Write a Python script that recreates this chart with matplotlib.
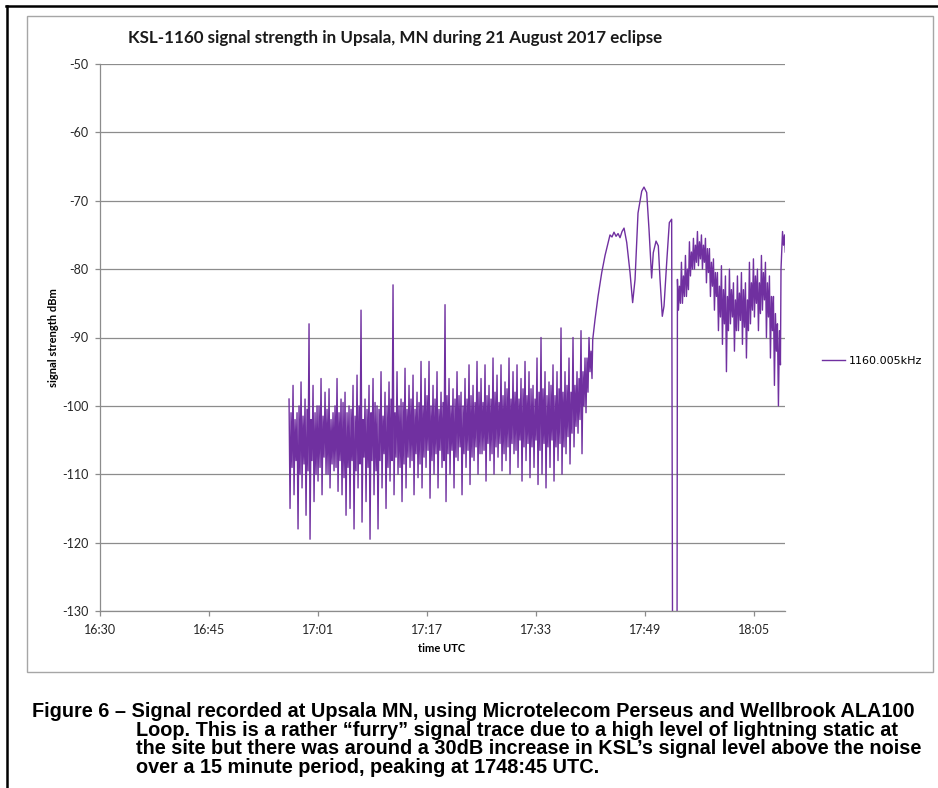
import numpy as np
import matplotlib

matplotlib.use("Agg")
import matplotlib.pyplot as plt
from matplotlib.lines import Line2D
from matplotlib.patches import Rectangle

plt.rcParams["axes.unicode_minus"] = False

# time axis is minutes after 16:30 UTC; Excel date axis with a 0.011 day major unit
TICK_MINUTES = [0, 15.84, 31.68, 47.52, 63.36, 79.2, 95.04]
TICK_LABELS = ["16:30", "16:45", "17:01", "17:17", "17:33", "17:49", "18:05"]
X_MAX = 99.54
Y_TICKS = [-50, -60, -70, -80, -90, -100, -110, -120, -130]

# recorder samples: outer high / low excursions ...
SAMPLE_STEP = 0.1453
NOISE_A_START = 27.47
NOISE_A = [
    -99, -115, -97, -113, -101, -118, -96.5, -112, -99, -116,
    -88, -119.5, -97, -114, -100, -111, -96, -113, -98, -110,
    -97.5, -112, -101, -109.5, -96, -112.5, -99, -113, -98, -116,
    -100, -115, -97, -118, -95.5, -112, -86, -117, -99, -114,
    -97, -119.5, -96, -113, -100, -118, -95, -112, -98, -115,
    -96.5, -111, -82.3, -113, -95, -110, -99, -114, -94.5, -112,
    -97, -109, -95.5, -113, -98, -110.5, -93.5, -112, -96, -109,
    -93.5, -113.5, -97, -110, -95, -112, -98, -109, -85.2, -114,
    -96, -110, -97.5, -112, -95, -108, -98, -113, -96, -109,
    -94, -111.5, -97, -108, -93.5, -110, -96, -107, -94, -111,
    -97, -108, -93, -110, -95.5, -107.5, -94, -109.5, -96.5, -108,
    -93, -110, -95, -107, -94, -109, -96, -111, -93.5, -108,
    -95, -110.5, -97, -109, -93, -111.5, -90, -110, -95, -112,
    -96.5, -109, -94, -111, -95, -108, -88.6, -110, -95, -107,
    -93, -108.5, -90, -106, -95, -104, -89, -107, -93, -101,
    -90, -95,
]
# ... and the dense core of the trace in between them
CORE_A = [
    -101, -109, -102, -108, -100, -110, -101.5, -108.5, -100.5, -109.5,
    -102, -108, -101, -110, -100, -109, -101.5, -107.5, -100.5, -110,
    -102, -108.5, -100, -109, -101, -108, -99.5, -110.5, -101, -109,
    -100.5, -108, -101.5, -109.5, -100, -108.5, -102, -107.5, -100.5, -109,
    -101, -108, -99.5, -109.5, -100.5, -108, -101.5, -107, -100, -109,
    -99, -108, -101, -107.5, -100, -109, -99.5, -108.5, -100.5, -107.5,
    -99, -108, -100.5, -107, -99.5, -108.5, -100, -107.5, -98.5, -106.5,
    -100, -108, -99, -107, -100.5, -106.5, -99.5, -108, -98.5, -107,
    -100, -106.5, -99, -107.5, -98.5, -106, -100, -107, -99, -106.5,
    -98.5, -107.5, -99.5, -106, -98, -107, -99.5, -106.5, -98.5, -105.5,
    -99, -107, -98, -106, -99.5, -105.5, -98.5, -107, -97.5, -106,
    -99, -105.5, -98, -106.5, -99, -105, -97.5, -106, -98.5, -105.5,
    -97.5, -106, -99, -105, -98, -106.5, -97.5, -105.5, -98.5, -106,
    -97, -105, -98.5, -106, -97.5, -105.5, -98, -106, -97, -104.5,
    -98, -104, -97, -103, -96, -102, -95, -100, -93, -98,
    -92, -96,
]

# smoother part around totality, then the dropout
RISE_T = [71.6, 71.93, 72.37, 72.91, 73.39, 74.11, 74.40, 74.69, 74.99, 75.28,
          75.57, 75.86, 76.15, 76.54, 77.02, 77.40, 77.75, 78.18, 78.72, 79.05,
          79.44, 79.78, 80.16, 80.40, 80.80, 81.13, 81.38, 81.71, 81.96, 82.35,
          82.73, 83.07, 83.20, 83.85]
RISE_V = [-90.3, -87.4, -84, -80.5, -78, -75, -75.3, -74.6, -75.2, -74.8,
          -75.4, -74.5, -74.0, -76.1, -80.5, -84.9, -81.5, -71.8, -68.6, -68.0,
          -68.8, -74.2, -81.3, -77.6, -75.9, -76.6, -81.5, -86.9, -85.4, -79,
          -73.2, -72.7, -135, -135]

NOISE_B_START = 83.91
NOISE_B = [
    -81.5, -86, -79, -85, -78, -84, -76, -81, -75.5, -80,
    -74.5, -79.5, -75, -80, -75.5, -82, -77, -84, -78.5, -86,
    -80.5, -89, -79.5, -91, -81, -95, -80, -88, -82, -92,
    -81, -89, -80.5, -91, -82, -93, -79, -88, -78.5, -87,
    -80, -89, -78, -86, -79, -90, -81, -93, -84, -97,
    -88, -100,
]
CORE_B = [
    -82.5, -85, -81, -84, -80, -83, -77.5, -80, -76.5, -79,
    -76, -78.5, -76.5, -79, -77, -80.5, -79, -82.5, -80.5, -84,
    -82.5, -87, -83, -88, -84, -89, -83, -87, -84.5, -89,
    -83.5, -87.5, -83, -88.5, -84.5, -89, -82, -86, -81, -85,
    -82, -86.5, -80.5, -84.5, -82, -87, -84, -89, -86.5, -92,
    -89, -94,
]

TAIL_T = [98.96, 99.18, 99.32, 99.47, 99.58]
TAIL_V = [-80, -74.5, -76.5, -75, -77.5]

SERIES_LABEL = "1160.005kHz"
TITLE = "KSL-1160 signal strength in Upsala, MN during 21 August 2017 eclipse"
CAPTION = [
    "Figure 6 \u2013 Signal recorded at Upsala MN, using Microtelecom Perseus and Wellbrook ALA100",
    "Loop. This is a rather \u201cfurry\u201d signal trace due to a high level of lightning static at",
    "the site but there was around a 30dB increase in KSL\u2019s signal level above the noise",
    "over a 15 minute period, peaking at 1748:45 UTC.",
]

W, H = 938, 788
LINE_COLOR = "#7030a0"
GRID_COLOR = "#8c8c8c"


def fx(px):
    return px / W


def fy(py):
    return 1 - py / H


def merge_noise(outer, core):
    # per sample pair: outer high, outer low, core high, core low
    merged = []
    for k in range(0, len(outer), 2):
        merged += [outer[k], outer[k + 1], core[k], core[k + 1]]
    return np.array(merged, dtype=float)


def main():
    noise_a = merge_noise(NOISE_A, CORE_A)
    noise_b = merge_noise(NOISE_B, CORE_B)
    t_a = NOISE_A_START + SAMPLE_STEP * np.arange(len(noise_a))
    t_b = NOISE_B_START + SAMPLE_STEP * np.arange(len(noise_b))
    times = np.concatenate([t_a, RISE_T, t_b, TAIL_T])
    values = np.concatenate([noise_a, RISE_V, noise_b, TAIL_V])

    fig = plt.figure(figsize=(W / 100, H / 100), dpi=100)
    ax = fig.add_axes([fx(100), fy(611), fx(685), (611 - 64) / H])

    ax.plot(times, values, color=LINE_COLOR, linewidth=1.0, label=SERIES_LABEL)

    ax.set_xlim(0, X_MAX)
    ax.set_ylim(-130, -50)
    ax.set_yticks(Y_TICKS)
    ax.set_xticks(TICK_MINUTES)
    ax.set_xticklabels(TICK_LABELS)
    ax.yaxis.grid(True, color=GRID_COLOR, linewidth=0.9)
    ax.set_axisbelow(True)

    for side in ("top", "right"):
        ax.spines[side].set_visible(False)
    for side in ("left", "bottom"):
        ax.spines[side].set_color(GRID_COLOR)
        ax.spines[side].set_linewidth(0.9)
    ax.tick_params(axis="both", direction="out", length=3.5, width=0.9, color=GRID_COLOR,
                   labelsize=9, labelcolor="#262626")
    ax.tick_params(axis="x", pad=6)
    ax.tick_params(axis="y", pad=5)
    for lab in ax.get_xticklabels() + ax.get_yticklabels():
        lab.set_family("Lato")

    fig.text(fx(395), fy(38), TITLE, family="Lato", fontweight="bold", fontsize=12.25,
             ha="center", va="center", color="#1a1a1a")
    fig.text(fx(442), fy(648), "time UTC", family="Lato", fontweight="bold", fontsize=8,
             ha="center", va="center")
    fig.text(fx(53), fy(338), "signal strength dBm", family="Lato", fontweight="bold",
             fontsize=8, rotation=90, ha="center", va="center")

    ax.legend(loc="center left", bbox_to_anchor=(fx(822), fy(361)),
              bbox_transform=fig.transFigure, frameon=False, fontsize=8,
              handlelength=2.1, handletextpad=0.3, borderpad=0, borderaxespad=0)

    # chart border and the page frame around it
    fig.add_artist(Rectangle((fx(27), fy(672)), fx(933 - 27), (672 - 16) / H,
                             transform=fig.transFigure, fill=False,
                             edgecolor="#a6a6a6", linewidth=1))
    fig.add_artist(Line2D([fx(6), 1], [fy(5.5), fy(5.5)], transform=fig.transFigure,
                          color="black", linewidth=1.8))
    fig.add_artist(Line2D([fx(7), fx(7)], [fy(5.5), 0], transform=fig.transFigure,
                          color="black", linewidth=1.8))

    caption_rows = [(32, 717), (136, 736), (136, 754.5), (136, 773)]
    for text, (px, py) in zip(CAPTION, caption_rows):
        fig.text(fx(px), fy(py), text, family="Liberation Sans", fontweight="bold",
                 fontsize=14.3, ha="left", va="baseline")

    fig.savefig("out.png", dpi=100)
    plt.close(fig)


if __name__ == "__main__":
    main()
